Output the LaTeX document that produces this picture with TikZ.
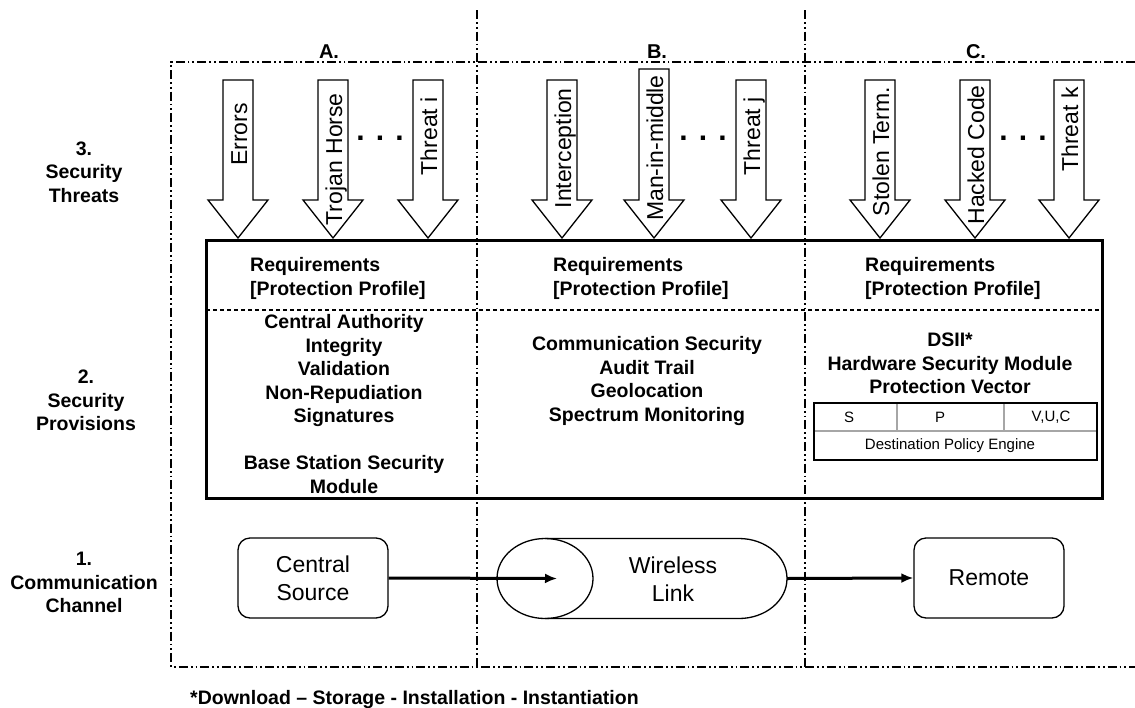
\documentclass[tikz,border=0pt]{standalone}
\usepackage{fontspec}
\setmainfont{Liberation Sans}
\usetikzlibrary{arrows.meta,shapes.geometric}

% block arrow for one threat: centre x, shaft top, text top, label, node name
\newcommand\threatarrow[5]{%
  \draw[barrow] ({#1-15},#2) -- ({#1+15},#2) -- ({#1+15},200) -- ({#1+30},200)
    -- (#1,238) -- ({#1-30},200) -- ({#1-15},200) -- cycle;
  \node[thr] (#5) at ({#1+9},#3) {#4};
}

\tikzset{
  lbl/.style={font=\fontsize{19.5}{23.5}\selectfont\bfseries, align=center, inner sep=0pt},
  lblleft/.style={lbl, align=left, anchor=west},
  thr/.style={font=\fontsize{23}{27}\selectfont, rotate=90, anchor=base east, inner sep=0pt},
  dotsnode/.style={font=\fontsize{30}{32}\selectfont\bfseries, inner sep=0pt},
  chan/.style={draw, line width=1.3pt, rounded corners=12pt, minimum width=150pt,
    minimum height=80pt, font=\fontsize{23}{28}\selectfont, align=center, inner sep=0pt},
  ddd/.style={line width=2.2pt, dash pattern=on 9pt off 3pt on 1.8pt off 3pt on 1.8pt off 3pt},
  conn/.style={line width=3pt, -{Latex[length=12pt,width=10pt]}},
  barrow/.style={draw, fill=white, line width=1.3pt, line join=miter},
  cell/.style={font=\fontsize{15}{18}\selectfont, inner sep=0pt},
}

\begin{document}
\begin{tikzpicture}[x=1pt, y=-1pt]
\useasboundingbox (0,0) rectangle (1135,707);

% dash-dot-dot frame and column dividers
\draw[ddd] (1135,62) -- (171,62) -- (171,667) -- (1135,667);
\draw[ddd] (477,10) -- (477,667);
\draw[ddd] (805,10) -- (805,667);

% column headings
\node[lbl, font=\fontsize{20}{24}\selectfont\bfseries] (hA) at (329,52) {A.};
\node[lbl, font=\fontsize{20}{24}\selectfont\bfseries] (hB) at (657,52) {B.};
\node[lbl, font=\fontsize{20}{24}\selectfont\bfseries] (hC) at (976,52) {C.};

% row labels
\node[lbl] (row3) at (84,172) {3.\\Security\\Threats};
\node[lbl] (row2) at (86,400.5) {2.\\Security\\Provisions};
\node[lbl] (row1) at (84,582.5) {1.\\Communication\\Channel};

% security provisions box
\node[draw, line width=3pt, minimum width=896pt, minimum height=258pt, inner sep=0pt]
  (prov) at (654,369) {};
\draw[line width=1.5pt, dash pattern=on 4pt off 3pt] (206,310) -- (1102,310);

\node[lblleft] (reqA) at (250,278.5) {Requirements\\\relax[Protection Profile]};
\node[lblleft] (reqB) at (553,278.5) {Requirements\\\relax[Protection Profile]};
\node[lblleft] (reqC) at (865,278.5) {Requirements\\\relax[Protection Profile]};

\node[lbl] (provA) at (344,404) {Central Authority\\Integrity\\Validation\\Non-Repudiation\\Signatures\\[23.5pt]Base Station Security\\Module};
\node[lbl] (provB) at (647,381) {Communication Security\\Audit Trail\\Geolocation\\Spectrum Monitoring};
\node[lbl] (provC) at (950,363.5) {DSII*\\Hardware Security Module\\Protection Vector};

% protection vector table
\draw[gray!70, line width=1.3pt] (814,431) -- (1097,431);
\draw[gray!70, line width=1.3pt] (897,403) -- (897,431);
\draw[gray!70, line width=1.3pt] (1004,403) -- (1004,431);
\draw[line width=2pt] (814,403) rectangle (1097,460);
\node[cell] (cS) at (849,417) {S};
\node[cell] (cP) at (940,417) {P};
\node[cell] (cV) at (1051,417) {V,U,C};
\node[cell] (cD) at (950,446) {Destination Policy Engine};

% threats
\threatarrow{238}{80}{103}{Errors}{tA1}
\threatarrow{333}{80}{93}{Trojan Horse}{tA2}
\threatarrow{428}{80}{97}{Threat i}{tA3}
\threatarrow{562}{80}{88}{Interception}{tB1}
\threatarrow{654}{69}{75}{Man-in-middle}{tB2}
\threatarrow{751}{80}{97}{Threat j}{tB3}
\threatarrow{880}{80}{87}{Stolen Term.}{tC1}
\threatarrow{975}{80}{85}{Hacked Code}{tC2}
\threatarrow{1069}{80}{87}{Threat k}{tC3}
\node[dotsnode] (dA) at (380,138) {. . .};
\node[dotsnode] (dB) at (703,138) {. . .};
\node[dotsnode] (dC) at (1023,138) {. . .};

% communication channel
\node[chan] (cs) at (313,578) {Central\\Source};
\draw[line width=1.3pt] (545,538.5) -- (739,538.5)
  arc[start angle=-90, end angle=90, x radius=48, y radius=40] -- (545,618.5);
\node[draw, ellipse, line width=1.3pt, minimum width=96pt, minimum height=80pt, inner sep=0pt]
  (wlend) at (545,578.5) {};
\node[font=\fontsize{23}{28}\selectfont, align=center, inner sep=0pt] (wl) at (673,579) {Wireless\\Link};
\coordinate (wlright) at (787,578.5);
\node[chan] (rem) at (989,578) {Remote};

\draw[conn] (cs.east) -- ([xshift=12pt]wlend.center);
\draw[conn] (wlright) -- (rem.west);

% footnote
\node[lbl, anchor=west, font=\fontsize{19.5}{23.5}\selectfont\bfseries] (fn) at (190,699)
  {*Download – Storage - Installation - Instantiation};
\end{tikzpicture}
\end{document}
